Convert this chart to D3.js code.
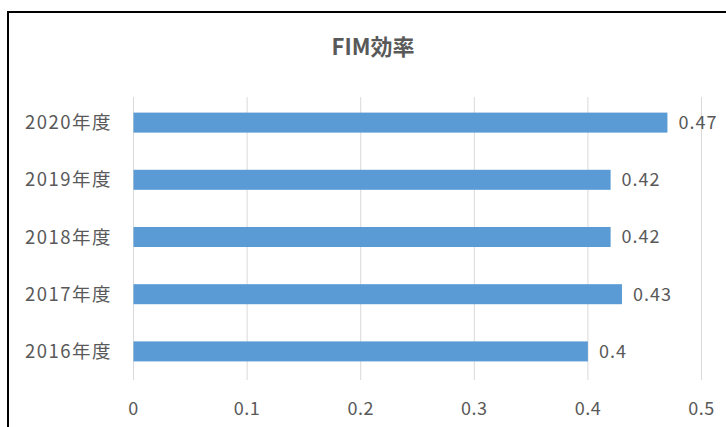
<!DOCTYPE html>
<html>
<head>
<meta charset="utf-8">
<script src="https://cdn.jsdelivr.net/npm/d3@7"></script>
<style>
  body { margin: 0; background: #fff; }
  text { font-family: "Noto Sans CJK JP", "Noto Sans", sans-serif; fill: #595959; }
</style>
</head>
<body>
<svg width="726" height="427"></svg>
<script>
// data
var categories = ["2016年度", "2017年度", "2018年度", "2019年度", "2020年度"];
var values = [0.4, 0.43, 0.42, 0.42, 0.47];
var ticks = [0, 0.1, 0.2, 0.3, 0.4, 0.5];

var svg = d3.select("svg");

// chart frame (cut off at right/bottom)
svg.append("rect")
  .attr("x", 8).attr("y", 12)
  .attr("width", 740).attr("height", 440)
  .attr("fill", "#fff")
  .attr("stroke", "#000")
  .attr("stroke-width", 2);

svg.append("text")
  .attr("x", 373).attr("y", 55)
  .attr("text-anchor", "middle")
  .style("font-size", "22px")
  .style("font-weight", "bold")
  .text("FIM効率");

var x = d3.scaleLinear().domain([0, 0.5]).range([133.5, 701.5]);
var y = d3.scaleBand().domain(categories.slice().reverse()).range([94, 380])
  .paddingInner(0.65).paddingOuter(0.325);

// gridlines
svg.append("g").selectAll("line")
  .data(ticks).enter().append("line")
  .attr("x1", function(d) { return x(d); })
  .attr("x2", function(d) { return x(d); })
  .attr("y1", 97).attr("y2", 380)
  .attr("stroke", "#d9d9d9").attr("stroke-width", 1);

// x tick labels
svg.append("g").selectAll("text")
  .data(ticks).enter().append("text")
  .attr("x", function(d) { return x(d); })
  .attr("y", 415)
  .attr("text-anchor", "middle")
  .style("font-size", "18px")
  .style("letter-spacing", "0.5px")
  .text(function(d) { return d; });

// bars
svg.append("g").selectAll("rect")
  .data(values).enter().append("rect")
  .attr("x", x(0))
  .attr("y", function(d, i) { return y(categories[i]); })
  .attr("width", function(d) { return x(d) - x(0); })
  .attr("height", y.bandwidth())
  .attr("fill", "#5b9bd5");

// value labels
svg.append("g").selectAll("text")
  .data(values).enter().append("text")
  .attr("x", function(d) { return x(d) + 11; })
  .attr("y", function(d, i) { return y(categories[i]) + y.bandwidth() / 2; })
  .attr("dy", "0.36em")
  .style("font-size", "18px")
  .style("letter-spacing", "1px")
  .text(function(d) { return d; });

// category labels
svg.append("g").selectAll("text")
  .data(categories).enter().append("text")
  .attr("x", 112)
  .attr("y", function(d) { return y(d) + y.bandwidth() / 2; })
  .attr("dy", "0.36em")
  .attr("text-anchor", "end")
  .style("font-size", "18.5px")
  .style("letter-spacing", "1.5px")
  .text(function(d) { return d; });
</script>
</body>
</html>
